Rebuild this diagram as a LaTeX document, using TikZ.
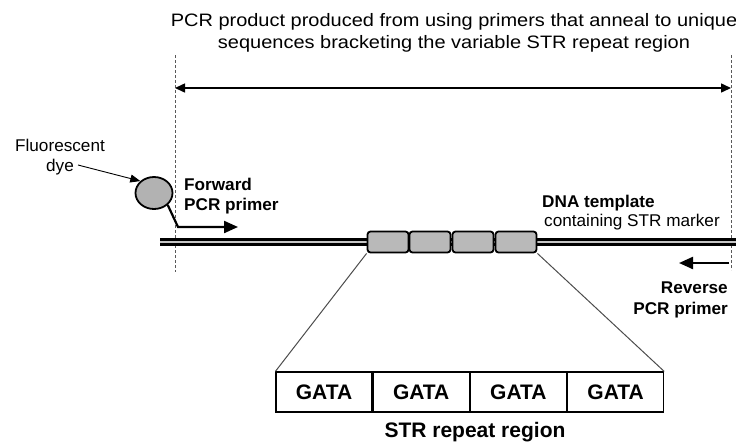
\documentclass[tikz,border=0pt]{standalone}
\usepackage{fontspec}
\setmainfont{Liberation Sans}
\newfontfamily\titlefont[FakeStretch=1.11]{Liberation Sans}
\newfontfamily\lblfont[FakeStretch=1.01]{Liberation Sans}
\usetikzlibrary{arrows.meta,shapes.geometric}
\begin{document}
\begin{tikzpicture}[x=1pt,y=-1pt,
  lbl/.style={font=\lblfont\fontsize{17}{20}\selectfont, inner sep=0pt},
  blbl/.style={font=\lblfont\fontsize{17}{20}\selectfont\bfseries, inner sep=0pt},
  gata/.style={draw, line width=1.2pt, minimum width=96pt, minimum height=40pt, font=\fontsize{21}{24}\selectfont\bfseries, inner sep=0pt},
  rep/.style={draw, line width=1.8pt, fill=gray!55, rounded corners=3pt, minimum width=41pt, minimum height=21pt, inner sep=0pt},
  guide/.style={dashed, gray!70!black, line width=0.8pt, dash pattern=on 3pt off 2pt},
  zoomline/.style={gray!60!black, line width=1pt}]
\useasboundingbox (0,0) rectangle (736,445);
% title
\node[font=\titlefont\fontsize{18}{22}\selectfont, inner sep=0pt, align=center] (title) at (454,33) {PCR product produced from using primers that anneal to unique\\sequences bracketing the variable STR repeat region};
% guides
\coordinate (gl1) at (175,55); \coordinate (gl2) at (175,272);
\coordinate (gr1) at (731,55); \coordinate (gr2) at (731,270);
\draw[guide] (gl1) -- (gl2);
\draw[guide] (gr1) -- (gr2);
\coordinate (al) at (175,88); \coordinate (ar) at (731,88);
\draw[line width=1.5pt, {Triangle[length=10pt,width=9pt]}-{Triangle[length=10pt,width=9pt]}] (al) -- (ar);
% DNA
\coordinate (d1) at (160,242); \coordinate (d2) at (736,242);
\draw[line width=2.8pt, double=gray!45, double distance=1.6pt] (d1) -- (d2);
% repeats
\node[rep] (r1) at (388,242) {};
\node[rep] (r2) at (430,242) {};
\node[rep] (r3) at (473,242) {};
\node[rep] (r4) at (516,242) {};
% bottom boxes
\node[gata] (g1) at (324,392) {GATA};
\node[gata, anchor=west] (g2) at (g1.east) {GATA};
\node[gata, anchor=west] (g3) at (g2.east) {GATA};
\node[gata, anchor=west] (g4) at (g3.east) {GATA};
\node[font=\fontsize{21}{24}\selectfont\bfseries, inner sep=0pt] (strlbl) at (475,432) {STR repeat region};
\draw[zoomline] (r1.south west) -- (g1.north west);
\draw[zoomline] (r4.south east) -- (g4.north east);
% dye
\node[lbl, align=center] (fd) at (60,157) {Fluorescent\\dye};
\node[draw, ellipse, line width=1.8pt, fill=gray!60, minimum width=37pt, minimum height=32pt, inner sep=0pt] (dye) at (154,193) {};
\coordinate (fa) at (78,165);
\draw[line width=0.9pt, -{Triangle[length=10pt,width=8pt]}] (fa) -- (dye.north west);
\coordinate (p1) at (178,227); \coordinate (p2) at (238,227);
\draw[line width=2.2pt, -{Triangle[length=14pt,width=12pt]}] (dye.south east) -- (p1) -- (p2);
\node[blbl, anchor=west] (fw1) at (184,184) {Forward};
\node[blbl, anchor=west] (fw2) at (184,206) {PCR primer};
% DNA template label
\node[blbl, anchor=west] (dt1) at (542,203) {DNA template};
\node[lbl, anchor=west] (dt2) at (544,222) {containing STR marker};
% reverse primer
\coordinate (rp1) at (729,263); \coordinate (rp2) at (679,263);
\draw[line width=2.2pt, -{Triangle[length=14pt,width=12pt]}] (rp1) -- (rp2);
\node[blbl, anchor=east] (rv1) at (728,288) {Reverse};
\node[blbl, anchor=east] (rv2) at (728,310) {PCR primer};
\end{tikzpicture}
\end{document}
